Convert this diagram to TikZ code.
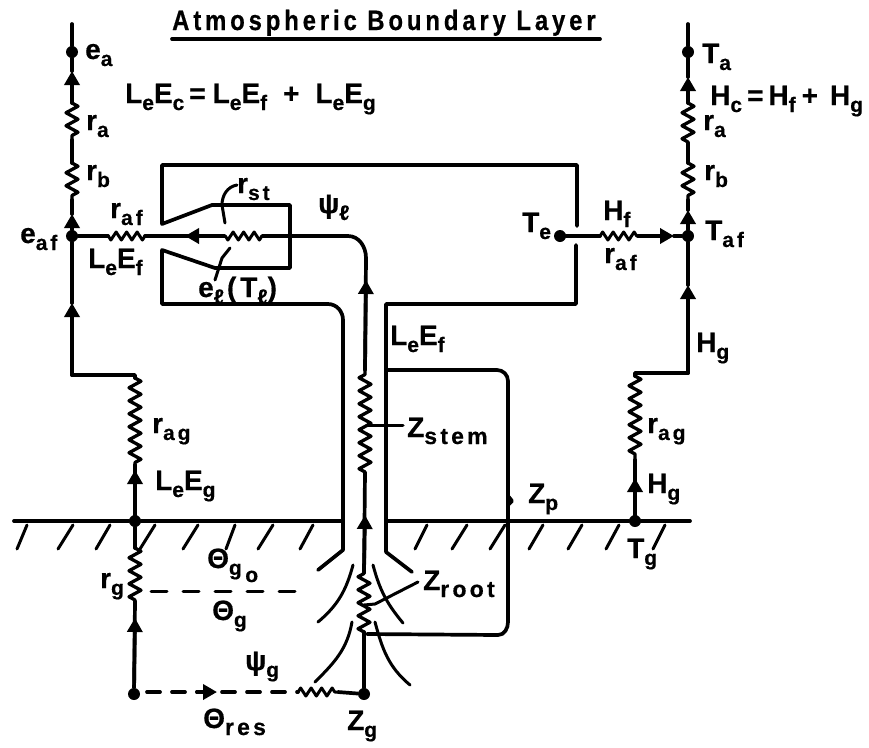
\documentclass[tikz,border=0pt]{standalone}
\usepackage{fontspec}
\setmainfont[LetterSpace=14,FakeStretch=1.0,BoldFeatures={FakeBold=0.5}]{Liberation Sans}
\newfontfamily\ttlfont[LetterSpace=14,FakeStretch=0.85,BoldFeatures={FakeBold=0.5}]{Liberation Sans}
\usetikzlibrary{decorations.pathmorphing,arrows.meta}
\newcommand\lo[1]{\raisebox{-7pt}{\fontsize{21}{21}\selectfont #1}}
\newcommand\lob[1]{\raisebox{-7pt}{\fontsize{23}{23}\selectfont #1}}
\tikzset{
  x=1pt,y=-1pt,
  wire/.style={line width=3.7pt,line join=round,line cap=round,black},
  thinw/.style={line width=3pt,line join=round,line cap=round,black},
  res/.style={wire,line width=3.3pt,decorate,decoration={zigzag,segment length=13pt,amplitude=6pt}},
  hres/.style={wire,line width=3pt,decorate,decoration={zigzag,segment length=10.5pt,amplitude=4pt}},
  tip/.style={wire,-{Triangle[length=14pt,width=15pt]}},
  dot/.style={circle,fill=black,inner sep=0pt,minimum size=12pt},
  lab/.style={anchor=base west,inner sep=0pt,font=\fontsize{28}{28}\selectfont\bfseries},
}
\begin{document}
\begin{tikzpicture}
\useasboundingbox (0,0) rectangle (869,747);
% coordinates
\coordinate (Ltop) at (72,24);
\node[dot] (ea) at (72,52) {};
\coordinate (La1) at (72,103); \coordinate (La2) at (72,140);
\coordinate (Lb1) at (72,163); \coordinate (Lb2) at (72,200);
\coordinate (Ltip1) at (72,71);
\node[dot] (eaf) at (72,236) {};
\coordinate (Ltip2) at (72,214);
\coordinate (Ltip3) at (72,303);
\coordinate (Lk1) at (72,375); \coordinate (Lk2) at (135,375);
\coordinate (Lg1) at (135,378); \coordinate (Lg2) at (135,465);
\coordinate (Ltip4) at (135,470);
\coordinate (Ltip5) at (135,618);
\node[dot] (gL) at (135,521) {};
\coordinate (Gr1) at (135,548); \coordinate (Gr2) at (135,601);
\node[dot] (res) at (134,694) {};
\node[dot] (zg) at (364,694) {};
\coordinate (D1) at (147,692); \coordinate (D2) at (217,692); \coordinate (D3) at (298,692);
\coordinate (Pr1) at (298,692); \coordinate (Pr2) at (338,692);
% wires left column
\draw[wire] (Ltop) -- (ea);
\draw[wire] (ea) -- (Ltip1);
\draw[tip] (La1) -- (Ltip1);
\draw[res] (La1) -- (La2);
\draw[wire] (La2) -- (Lb1);
\draw[res] (Lb1) -- (Lb2);
\draw[wire] (Ltip2) -- (Lb2);
\draw[tip] (eaf) -- (Ltip2);
\draw[wire] (Ltip3) -- (eaf);
\draw[tip] (Lk1) -- (Ltip3);
\draw[wire] (Lk1) -- (Lk2) -- (Lg1);
\draw[res] (Lg1) -- (Lg2);
\draw[wire] (Lg2) -- (gL);
\draw[tip] (gL) -- (Ltip4);
\draw[wire] (gL) -- (Gr1);
\draw[res] (Gr1) -- (Gr2);
\draw[wire] (Gr2) -- (res);
\draw[tip] (res) -- (Ltip5);
% bottom line
\draw[wire,dash pattern=on 13pt off 12pt] (D1) -- (D3);
\draw[tip] (197,692) -- (D2);
\draw[hres] (Pr1) -- (Pr2);
\draw[wire] (Pr2) -- (zg);
% stem
\coordinate (S0) at (364,632); \coordinate (S1) at (364,573);
\coordinate (S2) at (365,472); \coordinate (S3) at (365,370);
\coordinate (Stip1) at (365,515);
\coordinate (Stip2) at (366,280);
\coordinate (Sb) at (366,258); \coordinate (Sc) at (348,236);
\draw[wire] (zg) -- (S0);
\draw[res] (S0) -- (S1);
\draw[wire] (S1) -- (S2);
\draw[tip] (S1) -- (Stip1);
\draw[res] (S2) -- (S3);
\draw[wire] (S3) -- (Sb);
\draw[tip] (S3) -- (Stip2);
\coordinate (Rst1) at (262,236); \coordinate (Rst2) at (224,236);
\coordinate (Ht) at (185,236);
\coordinate (Raf1) at (145,236); \coordinate (Raf2) at (108,236);
\draw[wire] (Sb) to[out=90,in=0] (Sc) -- (Rst1);
\draw[hres] (Rst1) -- (Rst2);
\draw[tip] (Rst2) -- (Ht);
\draw[wire] (Rst2) -- (Raf1);
\draw[hres] (Raf1) -- (Raf2);
\draw[wire] (Raf2) -- (eaf);
% leaf outline
\coordinate (A1) at (162,165); \coordinate (A2) at (577,165); \coordinate (A3) at (577,226);
\coordinate (A4) at (162,224); \coordinate (A5) at (212,205); \coordinate (A6) at (290,205);
\coordinate (A7) at (290,268); \coordinate (A8) at (215,268); \coordinate (A9) at (162,250);
\coordinate (A10) at (162,304); \coordinate (A11) at (576,245); \coordinate (A12) at (576,304);
\draw[wire] (A3) -- (A2) -- (A1) -- (A4) -- (A5) -- (A6) -- (A7) -- (A8) -- (A9) -- (A10)
  -- (328,304) to[out=0,in=90] (343,320) -- (343,550) -- (318,570);
\draw[wire] (A11) -- (A12) -- (386,304) -- (386,552) -- (412,572);
% right column
\coordinate (Rtop) at (688,24);
\node[dot] (Ta) at (688,52) {};
\coordinate (Ra1) at (688,103); \coordinate (Ra2) at (688,143);
\coordinate (Rb1) at (688,163); \coordinate (Rb2) at (688,200);
\coordinate (Rtip1) at (688,77); \coordinate (Rtip2) at (688,210); \coordinate (Rtip3) at (688,285);
\node[dot] (Taf) at (688,236) {};
\coordinate (Rk1) at (688,373); \coordinate (Rk2) at (635,373);
\coordinate (Rg1) at (635,376); \coordinate (Rg2) at (635,460);
\coordinate (Rtip4) at (635,478);
\node[dot] (Tg) at (635,521) {};
\node[dot] (Te) at (560,236) {};
\coordinate (Rh1) at (600,236); \coordinate (Rh2) at (638,236);
\coordinate (Rtip5) at (674,236);
\draw[wire] (Rtop) -- (Ta);
\draw[tip] (Ra1) -- (Rtip1);
\draw[wire] (Ta) -- (Rtip1);
\draw[res] (Ra1) -- (Ra2);
\draw[wire] (Ra2) -- (Rb1);
\draw[res] (Rb1) -- (Rb2);
\draw[wire] (Rtip2) -- (Rb2);
\draw[tip] (Taf) -- (Rtip2);
\draw[tip] (Rk1) -- (Rtip3);
\draw[wire] (Rtip3) -- (Taf);
\draw[wire] (Rk1) -- (Rk2) -- (Rg1);
\draw[res] (Rg1) -- (Rg2);
\draw[wire] (Rg2) -- (Tg);
\draw[tip] (Tg) -- (Rtip4);
\draw[wire] (Te) -- (Rh1);
\draw[hres] (Rh1) -- (Rh2);
\draw[tip] (Rh2) -- (Rtip5);
\draw[wire] (Rtip5) -- (Taf);
% second loop
\draw[wire] (386,370) -- (497,370) to[out=0,in=90] (508,381) -- (508,622) to[out=-90,in=0] (498,635) -- (367,634);
\draw[wire] (508,496) -- (512,501) -- (508,505);
% ground
\draw[wire] (14,521) -- (gL) -- (343,521);
\draw[wire] (386,521) -- (Tg) -- (690,521);
\foreach \a/\b in {27/17,73/58,110/96,155/140,198/183,235/226,273/258,313/300,427/415,467/452,505/490,543/529,582/568,619/606,665/653}
  \draw[thinw] (\a,525) -- (\b,549);
% roots
\draw[thinw] (353,565) to[out=255,in=40] (318,622);
\draw[thinw] (352,622) to[out=260,in=45] (315,682);
\draw[thinw] (373,565) to[out=285,in=130] (403,623);
\draw[thinw] (375,622) to[out=285,in=140] (410,685);
% pointers
\draw[thinw] (418,582) -- (375,604) -- (364,605);
\draw[thinw] (403,425) -- (368,425);
\draw[thinw] (237,185) to[out=190,in=90] (222,205) -- (225,223);
\draw[thinw] (230,248) -- (222,258) -- (215,280);
% dashes
\draw[thinw,dash pattern=on 16pt off 16pt] (151,591) -- (295,591);
% title
\node[lab,font=\ttlfont\fontsize{28}{28}\selectfont\bfseries] (title) at (172,30) {Atmospheric Boundary Layer};
\draw[wire] (172,39) -- (600,39);
% labels
\node[lab] (l1) at (85,59) {e\lo{a}};
\node[lab] (l2) at (125,103) {L\lo{e}E\lo{c}\hspace{5pt}=\hspace{7pt}L\lo{e}E\lo{f}\hspace{16pt}+\hspace{16pt}L\lo{e}E\lo{g}};
\node[lab] (l3) at (86,130) {r\lo{a}};
\node[lab] (l4) at (86,180) {r\lo{b}};
\node[lab] (l5) at (20,243) {e\lo{af}};
\node[lab] (l6) at (110,218) {r\lo{af}};
\node[lab] (l7) at (88,268) {L\lo{e}E\lo{f}};
\node[lab] (l8) at (237,193) {r\lo{st}};
\node[lab] (l9) at (318,213) {ψ\lo{ℓ}};
\node[lab] (l10) at (198,297) {e\lo{ℓ}\hspace{3pt}(T\lo{ℓ})};
\node[lab] (l11) at (522,232) {T\lo{e}};
\node[lab] (l12) at (603,220) {H\lo{f}};
\node[lab] (l13) at (604,263) {r\lo{af}};
\node[lab] (l14) at (702,63) {T\lo{a}};
\node[lab] (l15) at (710,105) {H\lo{c}\hspace{5pt}=\hspace{5pt}H\lo{f}\hspace{6pt}+\hspace{12pt}H\lo{g}};
\node[lab] (l16) at (703,130) {r\lo{a}};
\node[lab] (l17) at (704,180) {r\lo{b}};
\node[lab] (l18) at (705,240) {T\lo{af}};
\node[lab] (l19) at (696,352) {H\lo{g}};
\node[lab] (l20) at (647,433) {r\lo{ag}};
\node[lab] (l21) at (647,493) {H\lo{g}};
\node[lab] (l22) at (528,503) {Z\lo{p}};
\node[lab] (l23) at (627,558) {T\lo{g}};
\node[lab] (l24) at (407,437) {Z\lob{stem}};
\node[lab] (l25) at (423,590) {Z\lob{root}};
\node[lab] (l26) at (347,730) {Z\lo{g}};
\node[lab] (l27) at (390,345) {L\lo{e}E\lo{f}};
\node[lab] (l28) at (152,433) {r\lo{ag}};
\node[lab] (l29) at (155,490) {L\lo{e}E\lo{g}};
\node[lab] (l30) at (100,588) {r\lo{g}};
\node[lab] (l31) at (207,568) {Θ\lo{g\,\lo{o}}};
\node[lab] (l32) at (212,620) {Θ\lo{g}};
\node[lab] (l33) at (245,670) {ψ\lo{g}};
\node[lab] (l34) at (203,728) {Θ\lob{res}};
\end{tikzpicture}
\end{document}
